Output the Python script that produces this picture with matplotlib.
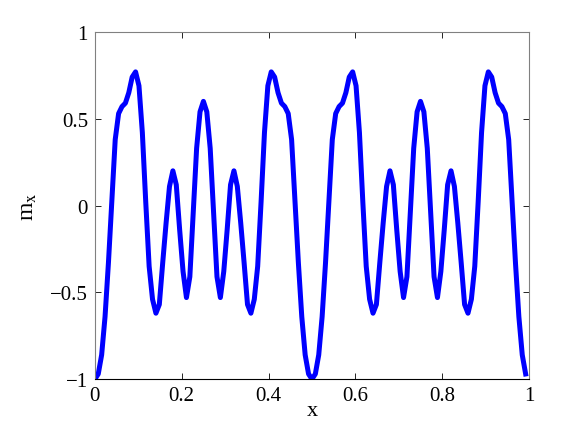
import numpy as np
import matplotlib
matplotlib.use('Agg')
import matplotlib.pyplot as plt

# m_x sampled on 128 points over [0, 1)
mx = [-1.00, -0.97, -0.86, -0.64, -0.33, 0.03, 0.38, 0.53, 0.57, 0.59, 0.65, 0.74, 0.77, 0.69, 0.42, 0.02,
      -0.35, -0.54, -0.62, -0.57, -0.33, -0.10, 0.11, 0.20, 0.12, -0.14, -0.38, -0.53, -0.41, -0.04, 0.33, 0.54,
      0.60, 0.54, 0.33, -0.04, -0.41, -0.53, -0.38, -0.14, 0.12, 0.20, 0.11, -0.10, -0.33, -0.57, -0.62, -0.54,
      -0.35, 0.02, 0.42, 0.69, 0.77, 0.74, 0.65, 0.59, 0.57, 0.53, 0.38, 0.03, -0.33, -0.64, -0.86, -0.97,
      -1.00, -0.97, -0.86, -0.64, -0.33, 0.03, 0.38, 0.53, 0.57, 0.59, 0.65, 0.74, 0.77, 0.69, 0.42, 0.02,
      -0.35, -0.54, -0.62, -0.57, -0.33, -0.10, 0.11, 0.20, 0.12, -0.14, -0.38, -0.53, -0.41, -0.04, 0.33, 0.54,
      0.60, 0.54, 0.33, -0.04, -0.41, -0.53, -0.38, -0.14, 0.12, 0.20, 0.11, -0.10, -0.33, -0.57, -0.62, -0.54,
      -0.35, 0.02, 0.42, 0.69, 0.77, 0.74, 0.65, 0.59, 0.57, 0.53, 0.38, 0.03, -0.33, -0.64, -0.86, -0.97]
x = np.linspace(0, 127 / 128, 128)

xticks = [0, 0.2, 0.4, 0.6, 0.8, 1]
xticklabels = ['0', '0.2', '0.4', '0.6', '0.8', '1']
yticks = [-1, -0.5, 0, 0.5, 1]
yticklabels = ['\u22121', '\u22120.5', '0', '0.5', '1']

plt.rcParams['font.family'] = ['Liberation Serif', 'DejaVu Serif']
plt.rcParams['mathtext.fontset'] = 'stix'

fig = plt.figure(figsize=(5.82, 4.39), dpi=100)
ax = fig.add_axes([0.163, 0.134, 0.746, 0.791])
ax.plot(x, mx, color='#0000ff', linewidth=3.6)

ax.set_xlim(0, 1)
ax.set_ylim(-1, 1)
ax.set_xticks(xticks)
ax.set_xticklabels(xticklabels)
ax.set_yticks(yticks)
ax.set_yticklabels(yticklabels)
ax.tick_params(direction='in', top=True, right=True, length=4, width=0.6,
               labelsize=15, pad=5)
for s in ['left', 'top', 'right']:
    ax.spines[s].set_color('#808080')
ax.spines['bottom'].set_color('black')
for s in ax.spines.values():
    s.set_linewidth(0.8)

ax.set_xlabel('x', fontsize=16, labelpad=-3)
ax.set_ylabel('m$_\\mathrm{x}$', fontsize=17, labelpad=8)

fig.savefig('out.png', dpi=100)
